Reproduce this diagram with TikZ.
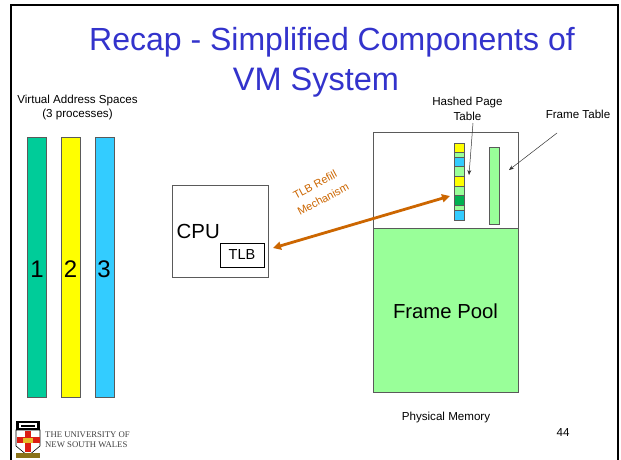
\documentclass[tikz,border=0pt]{standalone}
\usepackage{fontspec}
\setmainfont{Liberation Sans}
\newfontfamily\unifont{Liberation Serif}
\usetikzlibrary{arrows.meta}
\definecolor{titleblue}{RGB}{51,51,204}
\definecolor{vgreen}{RGB}{0,204,153}
\definecolor{vyellow}{RGB}{255,255,0}
\definecolor{vblue}{RGB}{51,204,255}
\definecolor{lgreen}{RGB}{153,255,153}
\definecolor{dgreen}{RGB}{0,176,80}
\definecolor{refill}{RGB}{204,102,0}
\definecolor{edgegray}{RGB}{90,90,90}
\definecolor{crestred}{RGB}{220,30,20}
\definecolor{crestgold}{RGB}{230,190,40}
\tikzset{
  lbl/.style={inner sep=0pt, font=\fontsize{11.6}{14.5}\selectfont, align=center},
  bignum/.style={inner sep=0pt, font=\fontsize{24}{26}\selectfont},
  refilltext/.style={inner sep=0pt, text=refill, rotate=28, font=\fontsize{11}{13}\selectfont},
  bar/.style={draw=edgegray, line width=0.8pt},
  cell/.style={draw=edgegray, line width=0.6pt},
  box/.style={draw=edgegray, line width=0.9pt},
  thinarrow/.style={draw=black!80, line width=0.5pt, -{Stealth[length=5pt,width=4pt]}},
  refillarrow/.style={draw=refill, line width=2.8pt, {Triangle[length=8pt,width=8pt]}-{Triangle[length=8pt,width=8pt]}}
}
\begin{document}
\begin{tikzpicture}[x=1pt,y=-1pt]
\useasboundingbox (0,0) rectangle (621,459);
\fill[white] (0,0) rectangle (621,459);
% slide frame
\draw[black, line width=2pt] (11,470) -- (11,5) -- (618,5) -- (618,470);
% title
\node[inner sep=0pt, text=titleblue, font=\fontsize{32}{40}\selectfont] (t1) at (332,42) {Recap - Simplified Components of};
\node[inner sep=0pt, text=titleblue, font=\fontsize{32.5}{40}\selectfont] (t2) at (316,83) {VM System};
% virtual address spaces
\node[lbl] (vas) at (77.5,107.5) {Virtual Address Spaces\\(3 processes)};
\fill[vgreen] (27,137) rectangle (46,397);
\draw[bar] (27,137) rectangle (46,397);
\fill[vyellow] (61,137) rectangle (80,397);
\draw[bar] (61,137) rectangle (80,397);
\fill[vblue] (95,137) rectangle (114,397);
\draw[bar] (95,137) rectangle (114,397);
\node[bignum] (n1) at (37,269) {1};
\node[bignum] (n2) at (70.5,269) {2};
\node[bignum] (n3) at (104,269) {3};
% CPU
\draw[box] (172,185) rectangle (268,277);
\node[inner sep=0pt, anchor=base west, font=\fontsize{20.4}{22}\selectfont] (cpu) at (176.5,238.5) {CPU};
\node[draw=black, line width=0.7pt, minimum width=44pt, minimum height=24pt, inner sep=0pt, font=\fontsize{14.5}{16}\selectfont] (tlb) at (242,255) {TLB};
% physical memory
\fill[lgreen] (373,228) rectangle (518,392);
\draw[box] (373,132) rectangle (518,392);
\draw[box] (373,228) -- (518,228);
\node[inner sep=0pt, font=\fontsize{20.3}{22}\selectfont] (fp) at (445.5,311) {Frame Pool};
\node[lbl] (pm) at (446,417) {Physical Memory};
\node[lbl] (pg) at (563,432) {44};
% hashed page table
\fill[vyellow] (454,143) rectangle (464,152.3);
\fill[lgreen] (454,152.3) rectangle (464,157.3);
\fill[vblue] (454,157.3) rectangle (464,166.7);
\fill[lgreen] (454,166.7) rectangle (464,176.3);
\fill[vyellow] (454,176.3) rectangle (464,186);
\fill[lgreen] (454,186) rectangle (464,195.3);
\fill[dgreen] (454,195.3) rectangle (464,205);
\fill[lgreen] (454,205) rectangle (464,210);
\fill[vblue] (454,210) rectangle (464,220);
\foreach \y in {152.3,157.3,166.7,176.3,186,195.3,205,210}
  \draw[cell] (454,\y) -- (464,\y);
\draw[cell] (454,143) rectangle (464,220);
% frame table
\fill[lgreen] (489,147) rectangle (499,224);
\draw[cell] (489,147) rectangle (499,224);
% labels and pointers
\node[lbl] (hptl) at (467.5,109) {Hashed Page\\Table};
\node[lbl] (ftl) at (578,114) {Frame Table};
\coordinate (hs) at (473,123);
\coordinate (he) at (469,175);
\draw[thinarrow] (hs) -- (he);
\coordinate (fs) at (557,133);
\coordinate (fe) at (509,170);
\draw[thinarrow] (fs) -- (fe);
% TLB refill
\coordinate (ra) at (273,248);
\coordinate (rb) at (450,196);
\draw[refillarrow] (ra) -- (rb);
\node[refilltext] (rl1) at (315,184.5) {TLB Refill};
\node[refilltext] (rl2) at (323,199) {Mechanism};
% UNSW logo
\fill[black] (16,421) rectangle (40,430);
\fill[white] (19,423) rectangle (37,428);
\fill[black] (21,424.5) rectangle (35,426.5);
\draw[black, line width=0.6pt, fill=white] (16,430) -- (40,430) -- (40,446) -- (28,456) -- (16,446) -- cycle;
\fill[crestred] (25,430.5) rectangle (31,452);
\fill[crestred] (16.5,437) rectangle (39.5,443);
\fill[crestgold] (23,437.5) rectangle (33,442.5);
\fill[crestgold!60!black] (16,453) rectangle (40,458);
\node[inner sep=0pt, anchor=west, align=left, text=black!75, font=\unifont\fontsize{8.7}{10.5}\selectfont] (uni) at (45,439.5) {THE UNIVERSITY OF\\NEW SOUTH WALES};
\end{tikzpicture}
\end{document}
